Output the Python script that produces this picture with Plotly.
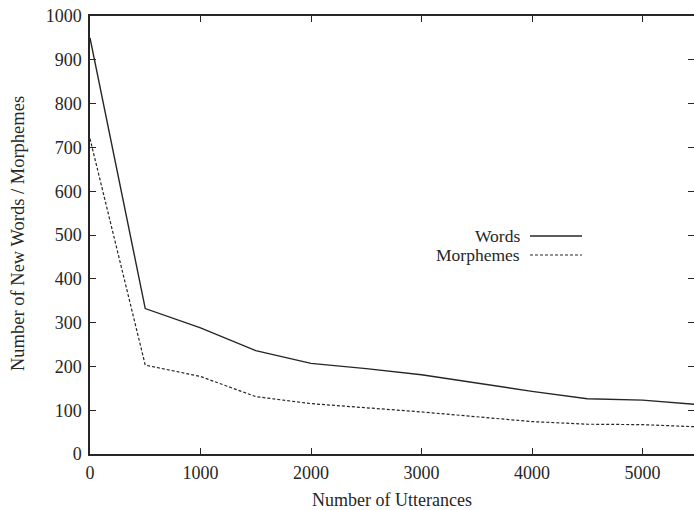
import plotly.graph_objects as go

utterances = [0, 500, 1000, 1500, 2000, 2500, 3000, 3500, 4000, 4500, 5000, 5500]
words = [950, 332, 288, 236, 207, 195, 181, 162, 143, 126, 123, 113]
morphemes = [720, 203, 177, 131, 115, 106, 96, 85, 74, 68, 67, 62]

x_ticks = [0, 1000, 2000, 3000, 4000, 5000]
y_ticks = [0, 100, 200, 300, 400, 500, 600, 700, 800, 900, 1000]

FONT = "Liberation Serif"
INK = "#262626"

L, T, W, H = 90, 16, 604, 438    # plot area in page pixels
FIG_W, FIG_H = 694, 510

fig = go.Figure()
fig.add_trace(go.Scatter(x=utterances, y=words, mode="lines", name="Words",
                         line=dict(color=INK, width=1.4), showlegend=False))
fig.add_trace(go.Scatter(x=utterances, y=morphemes, mode="lines", name="Morphemes",
                         line=dict(color=INK, width=1.2, dash="3px,2px"), showlegend=False))

axis_common = dict(showline=True, linecolor=INK, linewidth=1.5, mirror="allticks",
                   ticks="inside", ticklen=6, tickcolor=INK, tickwidth=1.2,
                   showgrid=False, zeroline=False, automargin=False,
                   ticklabeloverflow="allow",
                   tickfont=dict(family=FONT, size=18, color=INK))

fig.update_layout(
    width=FIG_W, height=FIG_H,
    margin=dict(l=L, r=FIG_W - L - W, t=T, b=FIG_H - T - H, autoexpand=False),
    paper_bgcolor="white", plot_bgcolor="white",
    font=dict(family=FONT, size=18, color=INK),
    xaxis=dict(range=[0, 5466], tickvals=x_ticks, ticklabelstandoff=2, **axis_common),
    yaxis=dict(range=[0, 1000], tickvals=y_ticks, ticklabelstandoff=3, **axis_common),
)

# axis titles
fig.add_annotation(x=0.5, y=(T + H - 500) / H, xref="paper", yref="paper",
                   text="Number of Utterances", showarrow=False,
                   xanchor="center", yanchor="middle",
                   font=dict(family=FONT, size=18, color=INK))
fig.add_annotation(x=(18 - L) / W, y=(T + H - 234) / H, xref="paper", yref="paper",
                   text="Number of New Words / Morphemes", showarrow=False,
                   textangle=-90, xanchor="center", yanchor="middle",
                   font=dict(family=FONT, size=18.5, color=INK))

# gnuplot-style key: label on the left, line sample on the right
key_items = [("Words", 236, "solid"), ("Morphemes", 255, "dash")]
for label, ypix, dash in key_items:
    yp = (T + H - ypix) / H
    fig.add_annotation(x=(521 - L) / W, y=yp, xref="paper", yref="paper", text=label,
                       showarrow=False, xanchor="right", yanchor="middle", borderpad=0,
                       font=dict(family=FONT, size=17.5, color=INK))
    fig.add_shape(type="line", xref="paper", yref="paper",
                  x0=(530 - L) / W, x1=(582 - L) / W, y0=yp, y1=yp,
                  line=dict(color=INK, width=1.3 if dash == "solid" else 1.1,
                            dash="solid" if dash == "solid" else "3px,2px"))

fig.write_html("out.html",
               config={"displayModeBar": False},
               post_script="document.body.style.margin='0';"
                           "document.body.style.overflow='hidden';")
